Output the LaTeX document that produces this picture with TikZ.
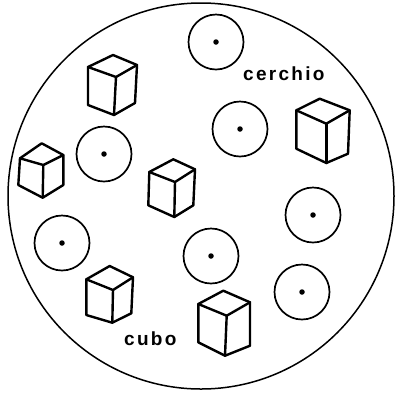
\documentclass[tikz,border=0pt]{standalone}
\usepackage{fontspec}
\setmainfont{Liberation Sans}
\newfontfamily\lblfont[LetterSpace=12]{Liberation Sans Bold}
\newcommand{\mycube}[8]{%
  \draw[cubeline] (#1) -- (#4) -- (#7) -- (#6) -- (#5) -- (#2) -- cycle;
  \draw[cubeline] (#2) -- (#3) -- (#4);
  \draw[cubeline] (#3) -- (#6);
}
\begin{document}
\begin{tikzpicture}[x=1pt,y=-1pt,
  bigring/.style={draw, line width=1.5pt},
  ring/.style={circle, draw, line width=1.7pt, minimum size=55pt, inner sep=0pt},
  dot/.style={circle, fill, minimum size=5.5pt, inner sep=0pt},
  cubeline/.style={line width=2.4pt, line join=round, line cap=round},
  lbl/.style={font=\fontsize{19}{22}\selectfont\lblfont, inner sep=0pt, anchor=base west}]
\useasboundingbox (0,0) rectangle (395,392);
\draw[bigring] (201,196) circle (193);
% hoops
\foreach \n/\x/\y in {1/216/42, 2/240/129, 3/104/154, 4/313/215, 5/62/243, 6/211/256, 7/302/292}{
  \node[ring] (r\n) at (\x,\y) {};
  \node[dot] (d\n) at (r\n.center) {};
}
% cube A
\coordinate (a1) at (113,55); \coordinate (a2) at (88,67); \coordinate (a3) at (116,77);
\coordinate (a4) at (137,65); \coordinate (a5) at (88,105); \coordinate (a6) at (114,115); \coordinate (a7) at (135,103);
\mycube{a1}{a2}{a3}{a4}{a5}{a6}{a7}{}
% cube B
\coordinate (b1) at (41.7,143.3); \coordinate (b2) at (20,158.3); \coordinate (b3) at (43.3,165);
\coordinate (b4) at (63.3,155); \coordinate (b5) at (18.3,185); \coordinate (b6) at (42.7,197.7); \coordinate (b7) at (63.3,185);
\mycube{b1}{b2}{b3}{b4}{b5}{b6}{b7}{}
% cube C
\coordinate (c1) at (173.3,159.3); \coordinate (c2) at (149.3,172); \coordinate (c3) at (175,182);
\coordinate (c4) at (195,169.3); \coordinate (c5) at (148.3,205.3); \coordinate (c6) at (174.3,217); \coordinate (c7) at (193.3,205.3);
\mycube{c1}{c2}{c3}{c4}{c5}{c6}{c7}{}
% cube D
\coordinate (e1) at (319.7,98.7); \coordinate (e2) at (296.3,110.3); \coordinate (e3) at (326.3,123.7);
\coordinate (e4) at (349.7,110.3); \coordinate (e5) at (296.3,148.7); \coordinate (e6) at (326.3,163); \coordinate (e7) at (348,153.7);
\mycube{e1}{e2}{e3}{e4}{e5}{e6}{e7}{}
% cube E
\coordinate (f1) at (109.7,266); \coordinate (f2) at (86.3,279.3); \coordinate (f3) at (113,290);
\coordinate (f4) at (133,277.3); \coordinate (f5) at (86.3,315); \coordinate (f6) at (112.3,322.7); \coordinate (f7) at (131.3,313.3);
\mycube{f1}{f2}{f3}{f4}{f5}{f6}{f7}{}
% cube F
\coordinate (g1) at (223.3,290.7); \coordinate (g2) at (198.3,304); \coordinate (g3) at (226.7,315.7);
\coordinate (g4) at (250,302.3); \coordinate (g5) at (198.3,342.3); \coordinate (g6) at (225,355.7); \coordinate (g7) at (250,345.7);
\mycube{g1}{g2}{g3}{g4}{g5}{g6}{g7}{}
% labels
\node[lbl] (cerchio) at (243,80) {cerchio};
\node[lbl] (cubo) at (124,345) {cubo};
\end{tikzpicture}
\end{document}
